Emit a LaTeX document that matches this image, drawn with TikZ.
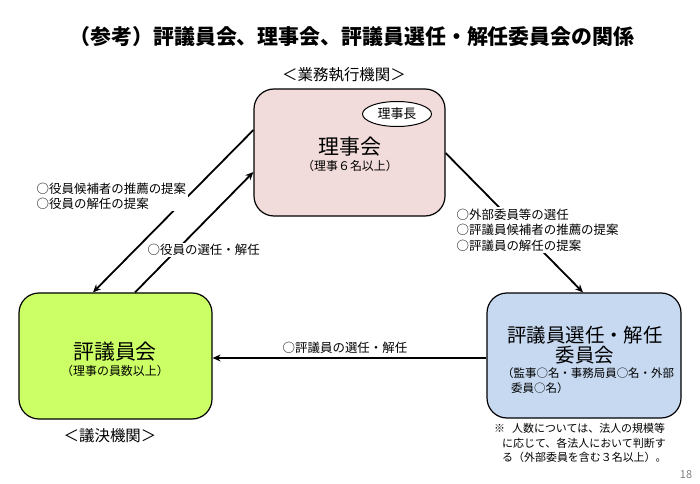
\documentclass[tikz,border=0pt]{standalone}
\usepackage{fontspec}
\setmainfont{Noto Sans CJK JP}
\usetikzlibrary{arrows.meta,shapes.geometric}
\definecolor{pinkfill}{HTML}{F2DCDB}
\definecolor{greenfill}{HTML}{CCFF66}
\definecolor{bluefill}{HTML}{C6D9F1}
\definecolor{pagegrey}{HTML}{808080}
\begin{document}
\begin{tikzpicture}[x=1bp,y=-1bp,
  box/.style={draw=black, line width=1.2bp, rounded corners=20bp, inner sep=0pt},
  arr/.style={line width=1.8bp, -{Stealth[length=8bp,width=7bp]}},
  lbl/.style={fill=white, inner sep=1.5bp, align=left, font=\fontsize{12.5}{15.5}\selectfont},
  big/.style={inner sep=0pt, font=\fontsize{21}{24}\selectfont},
  small/.style={inner sep=0pt, font=\fontsize{12}{15}\selectfont},
  organ/.style={inner sep=0pt, font=\fontsize{15.5}{18}\selectfont}]
\useasboundingbox (0,0) rectangle (700,484);
\fill[white] (0,0) rectangle (700,484);
% title
\node[inner sep=0pt, font=\fontsize{21}{24}\selectfont\bfseries] (title) at (352,37) {（参考）評議員会、理事会、評議員選任・解任委員会の関係};
% boxes
\node[box, fill=pinkfill, minimum width=191bp, minimum height=127bp] (rij) at (349.5,152.5) {};
\node[box, fill=greenfill, minimum width=193bp, minimum height=126bp] (hyo) at (115.5,356) {};
\node[box, fill=bluefill, minimum width=194bp, minimum height=125bp] (sen) at (584,355.5) {};
% rijikai contents
\node[organ] (rijorg) at (344,75) {＜業務執行機関＞};
\node[draw=black, line width=1bp, fill=white, ellipse, minimum width=69bp, minimum height=25bp, inner sep=0pt, font=\fontsize{13}{15}\selectfont] (chair) at (397,114) {理事長};
\node[big] (rijname) at (350,147) {理事会};
\node[small] (rijnum) at (350,166) {（理事６名以上）};
% hyogiinkai contents
\node[big] (hyoname) at (115,352) {評議員会};
\node[small] (hyonum) at (115,371) {（理事の員数以上）};
\node[organ] (hyoorg) at (110,436) {＜議決機関＞};
% senkai contents
\node[inner sep=0pt, font=\fontsize{19.5}{22}\selectfont] (senname1) at (585,335) {評議員選任・解任};
\node[inner sep=0pt, font=\fontsize{19.5}{22}\selectfont] (senname2) at (585,355) {委員会};
\node[inner sep=0pt, anchor=west, align=left, font=\fontsize{11.5}{15}\selectfont] (senmem) at (502,380.5) {（監事○名・事務局員○名・外部\\\hspace*{9bp}委員○名）};
\node[inner sep=0pt, anchor=west, align=left, font=\fontsize{11}{14.5}\selectfont] (note) at (494,443) {※\hspace*{7bp}人数については、法人の規模等\\\hspace*{8bp}に応じて、各法人において判断す\\\hspace*{8bp}る（外部委員を含む３名以上）。};
\node[inner sep=0pt, text=pagegrey, font=\fontsize{11}{13}\selectfont] (page) at (686,475) {18};
% connectors
\draw[arr] (rij.west |- 0,130) -- (hyo.north -| 93,0);
\draw[arr] (hyo.north -| 135,0) -- (rij.west |- 0,172);
\draw[arr] (rij.east |- 0,153) -- (sen.north -| 583,0);
\draw[arr] (sen.west |- 0,358) -- (hyo.east |- 0,358);
% connector labels
\node[lbl, anchor=west] (lab1) at (35,196.5) {○役員候補者の推薦の提案\\○役員の解任の提案};
\node[lbl, anchor=west] (lab2) at (146,250) {○役員の選任・解任};
\node[lbl, anchor=west] (lab3) at (455,230) {○外部委員等の選任\\○評議員候補者の推薦の提案\\○評議員の解任の提案};
\node[lbl, anchor=center, fill=none] (lab4) at (345,348) {○評議員の選任・解任};
\end{tikzpicture}
\end{document}
